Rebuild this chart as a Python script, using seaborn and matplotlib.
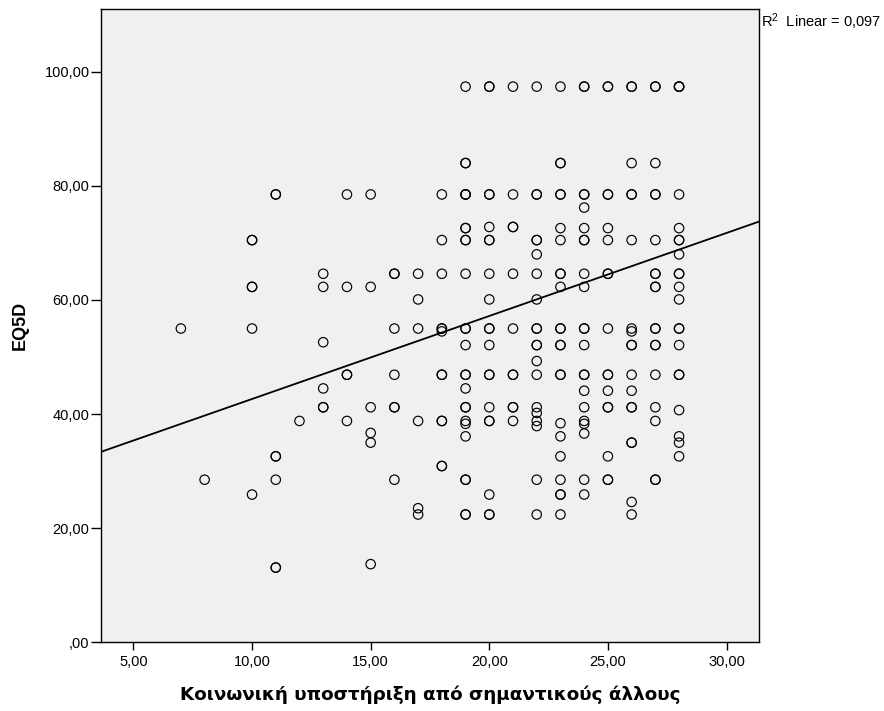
import matplotlib
matplotlib.use("Agg")
import matplotlib.pyplot as plt
import numpy as np
import pandas as pd
import seaborn as sns

# EQ5D scores grouped by social-support score (repeated values = overlapping cases)
eq5d_at_7 = [55.0]
eq5d_at_8 = [28.5]
eq5d_at_10 = [70.5, 70.5, 62.3, 62.3, 55.0, 25.9]
eq5d_at_11 = [78.5, 78.5, 32.6, 32.6, 28.5, 13.1, 13.1]
eq5d_at_12 = [38.8]
eq5d_at_13 = [64.6, 62.3, 52.6, 44.5, 41.2, 41.2]
eq5d_at_14 = [78.5, 62.3, 46.9, 46.9, 38.8]
eq5d_at_15 = [78.5, 62.3, 41.2, 36.7, 35.0, 13.7]
eq5d_at_16 = [64.6, 64.6, 55.0, 46.9, 41.2, 41.2, 28.5]
eq5d_at_17 = [64.6, 60.1, 55.0, 38.8, 23.5, 22.4]
eq5d_at_18 = [78.5, 70.5, 64.6, 55.0, 55.0, 54.5, 46.9, 46.9, 38.8, 38.8,
              30.9, 30.9]
eq5d_at_19 = [97.4, 84.0, 84.0, 78.5, 78.5, 78.5, 72.6, 72.6, 70.5, 70.5,
              64.6, 55.0, 55.0, 52.1, 46.9, 46.9, 44.5, 41.2, 41.2, 38.8,
              38.3, 36.1, 28.5, 28.5, 22.4, 22.4]
eq5d_at_20 = [97.4, 97.4, 78.5, 78.5, 72.8, 70.5, 70.5, 64.6, 60.1, 55.0,
              55.0, 52.1, 46.9, 46.9, 41.2, 38.8, 38.8, 25.9, 22.4, 22.4]
eq5d_at_21 = [97.4, 78.5, 72.8, 72.8, 64.6, 55.0, 46.9, 46.9, 41.2, 41.2,
              38.8]
eq5d_at_22 = [97.4, 78.5, 78.5, 70.5, 70.5, 68.0, 64.6, 60.1, 55.0, 55.0,
              52.1, 52.1, 49.3, 46.9, 41.2, 40.2, 38.8, 37.9, 28.5, 22.4]
eq5d_at_23 = [97.4, 84.0, 84.0, 78.5, 78.5, 72.6, 70.5, 64.6, 64.6, 62.3,
              55.0, 55.0, 52.1, 52.1, 46.9, 46.9, 38.4, 36.1, 32.6, 28.5,
              25.9, 25.9, 22.4]
eq5d_at_24 = [97.4, 97.4, 78.5, 78.5, 76.2, 72.6, 70.5, 70.5, 64.6, 62.3,
              55.0, 55.0, 52.1, 46.9, 46.9, 44.1, 41.2, 38.8, 38.3, 36.6,
              28.5, 25.9]
eq5d_at_25 = [97.4, 97.4, 78.5, 78.5, 72.6, 70.5, 64.6, 64.6, 55.0, 46.9,
              46.9, 44.1, 41.2, 41.2, 32.6, 28.5, 28.5]
eq5d_at_26 = [97.4, 97.4, 84.0, 78.5, 78.5, 70.5, 55.0, 54.5, 52.1, 52.1,
              46.9, 44.1, 41.2, 41.2, 35.0, 35.0, 24.6, 22.4]
eq5d_at_27 = [97.4, 97.4, 84.0, 78.5, 78.5, 70.5, 64.6, 64.6, 62.3, 62.3,
              55.0, 55.0, 52.1, 52.1, 46.9, 41.2, 38.8, 28.5, 28.5]
eq5d_at_28 = [97.4, 97.4, 97.4, 78.5, 72.6, 70.5, 70.5, 68.0, 64.6, 64.6,
              62.3, 60.1, 55.0, 55.0, 52.1, 46.9, 46.9, 40.7, 36.1, 35.0,
              32.6]

support_scores = [7, 8, 10, 11, 12, 13, 14, 15, 16, 17, 18, 19, 20, 21, 22,
                  23, 24, 25, 26, 27, 28]
eq5d_columns = [eq5d_at_7, eq5d_at_8, eq5d_at_10, eq5d_at_11, eq5d_at_12,
                eq5d_at_13, eq5d_at_14, eq5d_at_15, eq5d_at_16, eq5d_at_17,
                eq5d_at_18, eq5d_at_19, eq5d_at_20, eq5d_at_21, eq5d_at_22,
                eq5d_at_23, eq5d_at_24, eq5d_at_25, eq5d_at_26, eq5d_at_27,
                eq5d_at_28]

# Fitted linear regression (EQ5D on social support)
fit_intercept = 28.1
fit_slope = 1.455
r_squared_label = "R$^{2}$  Linear = 0,097"

x_ticks = [5, 10, 15, 20, 25, 30]
x_tick_labels = ["5,00", "10,00", "15,00", "20,00", "25,00", "30,00"]
y_ticks = [0, 20, 40, 60, 80, 100]
y_tick_labels = [",00", "20,00", "40,00", "60,00", "80,00", "100,00"]

x_title = "Κοινωνική υποστήριξη από σημαντικούς άλλους"
y_title = "EQ5D"

df = pd.DataFrame({
    "support": [s for s, col in zip(support_scores, eq5d_columns) for _ in col],
    "eq5d": [v for col in eq5d_columns for v in col],
})

sns.set_style("white")
plt.rcParams["font.family"] = ["Liberation Sans", "DejaVu Sans"]
plt.rcParams["mathtext.fontset"] = "custom"
plt.rcParams["mathtext.rm"] = "Liberation Sans"
plt.rcParams["mathtext.it"] = "Liberation Sans"
for key in ["text.color", "axes.labelcolor", "xtick.color", "ytick.color",
            "axes.edgecolor"]:
    plt.rcParams[key] = "black"

fig = plt.figure(figsize=(8.84, 7.11), dpi=100)
ax = fig.add_axes([0.1139, 0.0966, 0.745, 0.8907])
ax.set_facecolor("#f0f0f0")

sns.scatterplot(data=df, x="support", y="eq5d", ax=ax, marker="o", s=46,
                fc="none", ec="black", linewidth=0.85, zorder=3)

ax.axline((0, fit_intercept), slope=fit_slope, color="black", lw=1.3,
          zorder=4)

ax.set_xlim(3.62, 31.38)
ax.set_ylim(0, 111.0)

ax.set_xticks(x_ticks)
ax.set_xticklabels(x_tick_labels, fontsize=10.5)
ax.set_yticks(y_ticks)
ax.set_yticklabels(y_tick_labels, fontsize=10.5)
ax.tick_params(axis="x", direction="out", length=6, width=1.0, pad=3,
               colors="black", bottom=True)
ax.tick_params(axis="y", direction="out", length=7.5, width=1.0, pad=0.5,
               colors="black", left=True)

for side in ["left", "right", "top", "bottom"]:
    ax.spines[side].set_visible(True)
    ax.spines[side].set_color("black")
    ax.spines[side].set_linewidth(1.0)

ax.set_xlabel(x_title, fontsize=13.2, fontweight="bold",
              family=["DejaVu Sans"], labelpad=12, color="black")
ax.set_ylabel(y_title, fontsize=13, fontweight="bold", labelpad=11,
              color="black")

fig.text(761 / 884, 1 - 22 / 711, r_squared_label, fontsize=10.5,
         ha="left", va="center", color="black")

fig.savefig("out.png", dpi=100)
